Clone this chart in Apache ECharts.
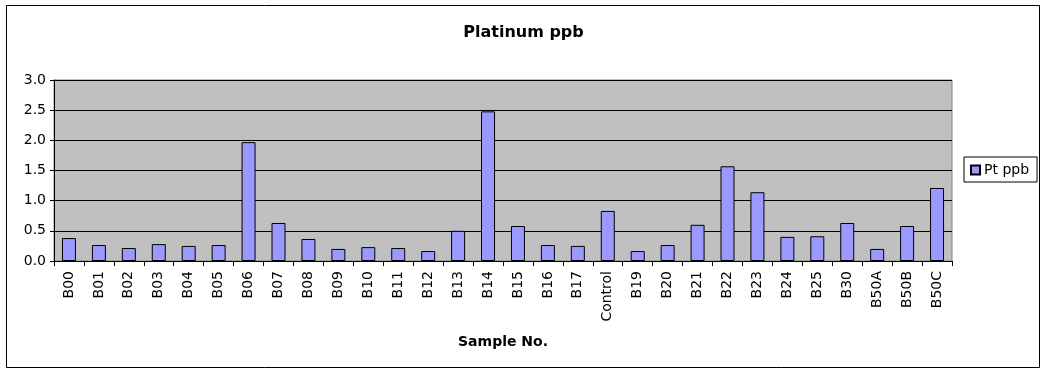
<!DOCTYPE html>
<html><head><meta charset="utf-8">
<script src="https://cdn.jsdelivr.net/npm/echarts@6/dist/echarts.min.js"></script>
<style>html,body{margin:0;padding:0;background:#fff}#c{width:1047px;height:374px}</style>
</head><body><div id="c"></div>
<script>
const categories = ['B00','B01','B02','B03','B04','B05','B06','B07','B08','B09','B10','B11','B12','B13','B14','B15','B16','B17','Control','B19','B20','B21','B22','B23','B24','B25','B30','B50A','B50B','B50C'];
const ptValues = [0.38,0.265,0.215,0.28,0.25,0.265,1.97,0.63,0.365,0.2,0.23,0.215,0.165,0.5,2.48,0.58,0.265,0.25,0.83,0.165,0.265,0.6,1.57,1.14,0.4,0.41,0.63,0.2,0.58,1.21];
const seriesName = 'Pt ppb';
const FONT = '"DejaVu Sans", Verdana, sans-serif';
const chart = echarts.init(document.getElementById('c'));
chart.setOption({
  animation: false,
  backgroundColor: '#fff',
  title: { text: 'Platinum ppb', left: 'center', top: 20,
    textStyle: { fontFamily: FONT, fontSize: 16, fontWeight: 'bold', color: '#000' } },
  legend: { orient: 'vertical', left: 964, top: 157, data: [seriesName],
    borderColor: '#000', borderWidth: 1, padding: [6, 8, 5, 6],
    itemWidth: 9, itemHeight: 9, itemGap: 0, icon: 'rect',
    textStyle: { fontFamily: FONT, fontSize: 14, color: '#000', padding: [0,0,0,-1] } },
  graphic: [{ type: 'rect', shape: { x: 6.5, y: 5.5, width: 1033, height: 362 },
    style: { fill: 'none', stroke: '#000', lineWidth: 1 }, silent: true }],
  grid: { left: 54, right: 95, top: 80, bottom: 113, show: true,
    backgroundColor: '#C0C0C0', borderColor: '#808080', borderWidth: 1 },
  xAxis: { type: 'category', data: categories,
    name: 'Sample No.', nameLocation: 'middle', nameGap: 74,
    nameTextStyle: { fontFamily: FONT, fontSize: 14, fontWeight: 'bold', color: '#000' },
    axisLine: { lineStyle: { color: '#000', width: 1 } },
    axisTick: { show: true, alignWithLabel: false, length: 5, lineStyle: { color: '#000' } },
    axisLabel: { rotate: 90, interval: 0, margin: 10, fontFamily: FONT, fontSize: 14, color: '#000' } },
  yAxis: { type: 'value', min: 0, max: 3, interval: 0.5,
    axisLine: { show: true, lineStyle: { color: '#000' } },
    axisTick: { show: true, length: 4, lineStyle: { color: '#000' } },
    axisLabel: { formatter: v => v.toFixed(1), margin: 8, fontFamily: FONT, fontSize: 14, color: '#000' },
    splitLine: { show: true, lineStyle: { color: '#000', width: 1 } } },
  series: [{ name: seriesName, type: 'bar', data: ptValues, barWidth: 14,
    itemStyle: { color: '#9999FF', borderColor: '#000', borderWidth: 1 } }]
});
</script></body></html>
